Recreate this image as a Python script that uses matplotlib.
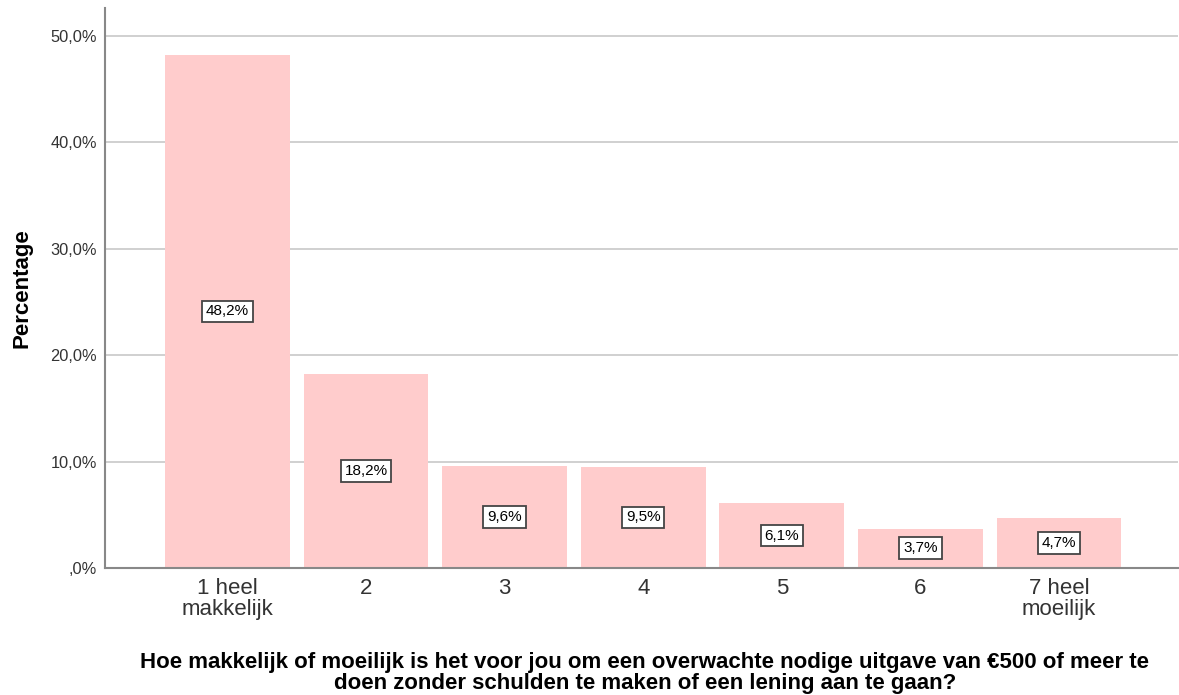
import matplotlib
matplotlib.use("Agg")
import matplotlib.pyplot as plt
from matplotlib.ticker import FuncFormatter

categories = ["1 heel\nmakkelijk", "2", "3", "4", "5", "6", "7 heel\nmoeilijk"]
values = [48.2, 18.2, 9.6, 9.5, 6.1, 3.7, 4.7]
yticks = [0, 10, 20, 30, 40, 50]

plt.rcParams['font.family'] = ['Liberation Sans', 'DejaVu Sans']

fig = plt.figure(figsize=(11.79, 6.95), dpi=100)
ax = fig.add_axes([105/1179, 1-568/695, (1178-105)/1179, (568-8)/695])

x = list(range(len(categories)))
ax.bar(x, values, width=0.9, color='#FFCCCC', zorder=2)
for xi, v in zip(x, values):
    ax.text(xi, v/2, f"{v:.1f}%".replace('.', ','), ha='center', va='center', fontsize=11,
            bbox=dict(boxstyle='square,pad=0.25', fc='white', ec='#444444', lw=1.3), zorder=3)

ax.set_xlim(-0.883, 6.858)
ax.set_ylim(0, 52.6)
ax.set_yticks(yticks)
def fmt(v, pos):
    s = f"{v:.1f}".replace('.', ',')
    if s.startswith('0,'):
        s = s[1:]
    return s + '%'
ax.yaxis.set_major_formatter(FuncFormatter(fmt))
ax.yaxis.grid(True, color='#c8c8c8', lw=1.2, zorder=0)
ax.set_axisbelow(True)
ax.set_xticks(x)
ax.set_xticklabels(categories, fontsize=16, color='#333333', linespacing=1.0)
ax.tick_params(axis='x', length=0, pad=7)
ax.tick_params(axis='y', length=0, pad=6, labelsize=11.8, labelcolor='#333333')
for s in ['top', 'right']:
    ax.spines[s].set_visible(False)
for s in ['left', 'bottom']:
    ax.spines[s].set_color('#888888')
    ax.spines[s].set_linewidth(1.5)

ax.set_ylabel('Percentage', fontsize=16, fontweight='bold')
ax.yaxis.set_label_coords(-(105-32)/1073, 0.5)
fig.text(645/1179, 1-673/695,
         "Hoe makkelijk of moeilijk is het voor jou om een overwachte nodige uitgave van €500 of meer te\ndoen zonder schulden te maken of een lening aan te gaan?",
         ha='center', va='center', fontsize=16, fontweight='bold', linespacing=0.97)

fig.savefig('out.png', dpi=100)
